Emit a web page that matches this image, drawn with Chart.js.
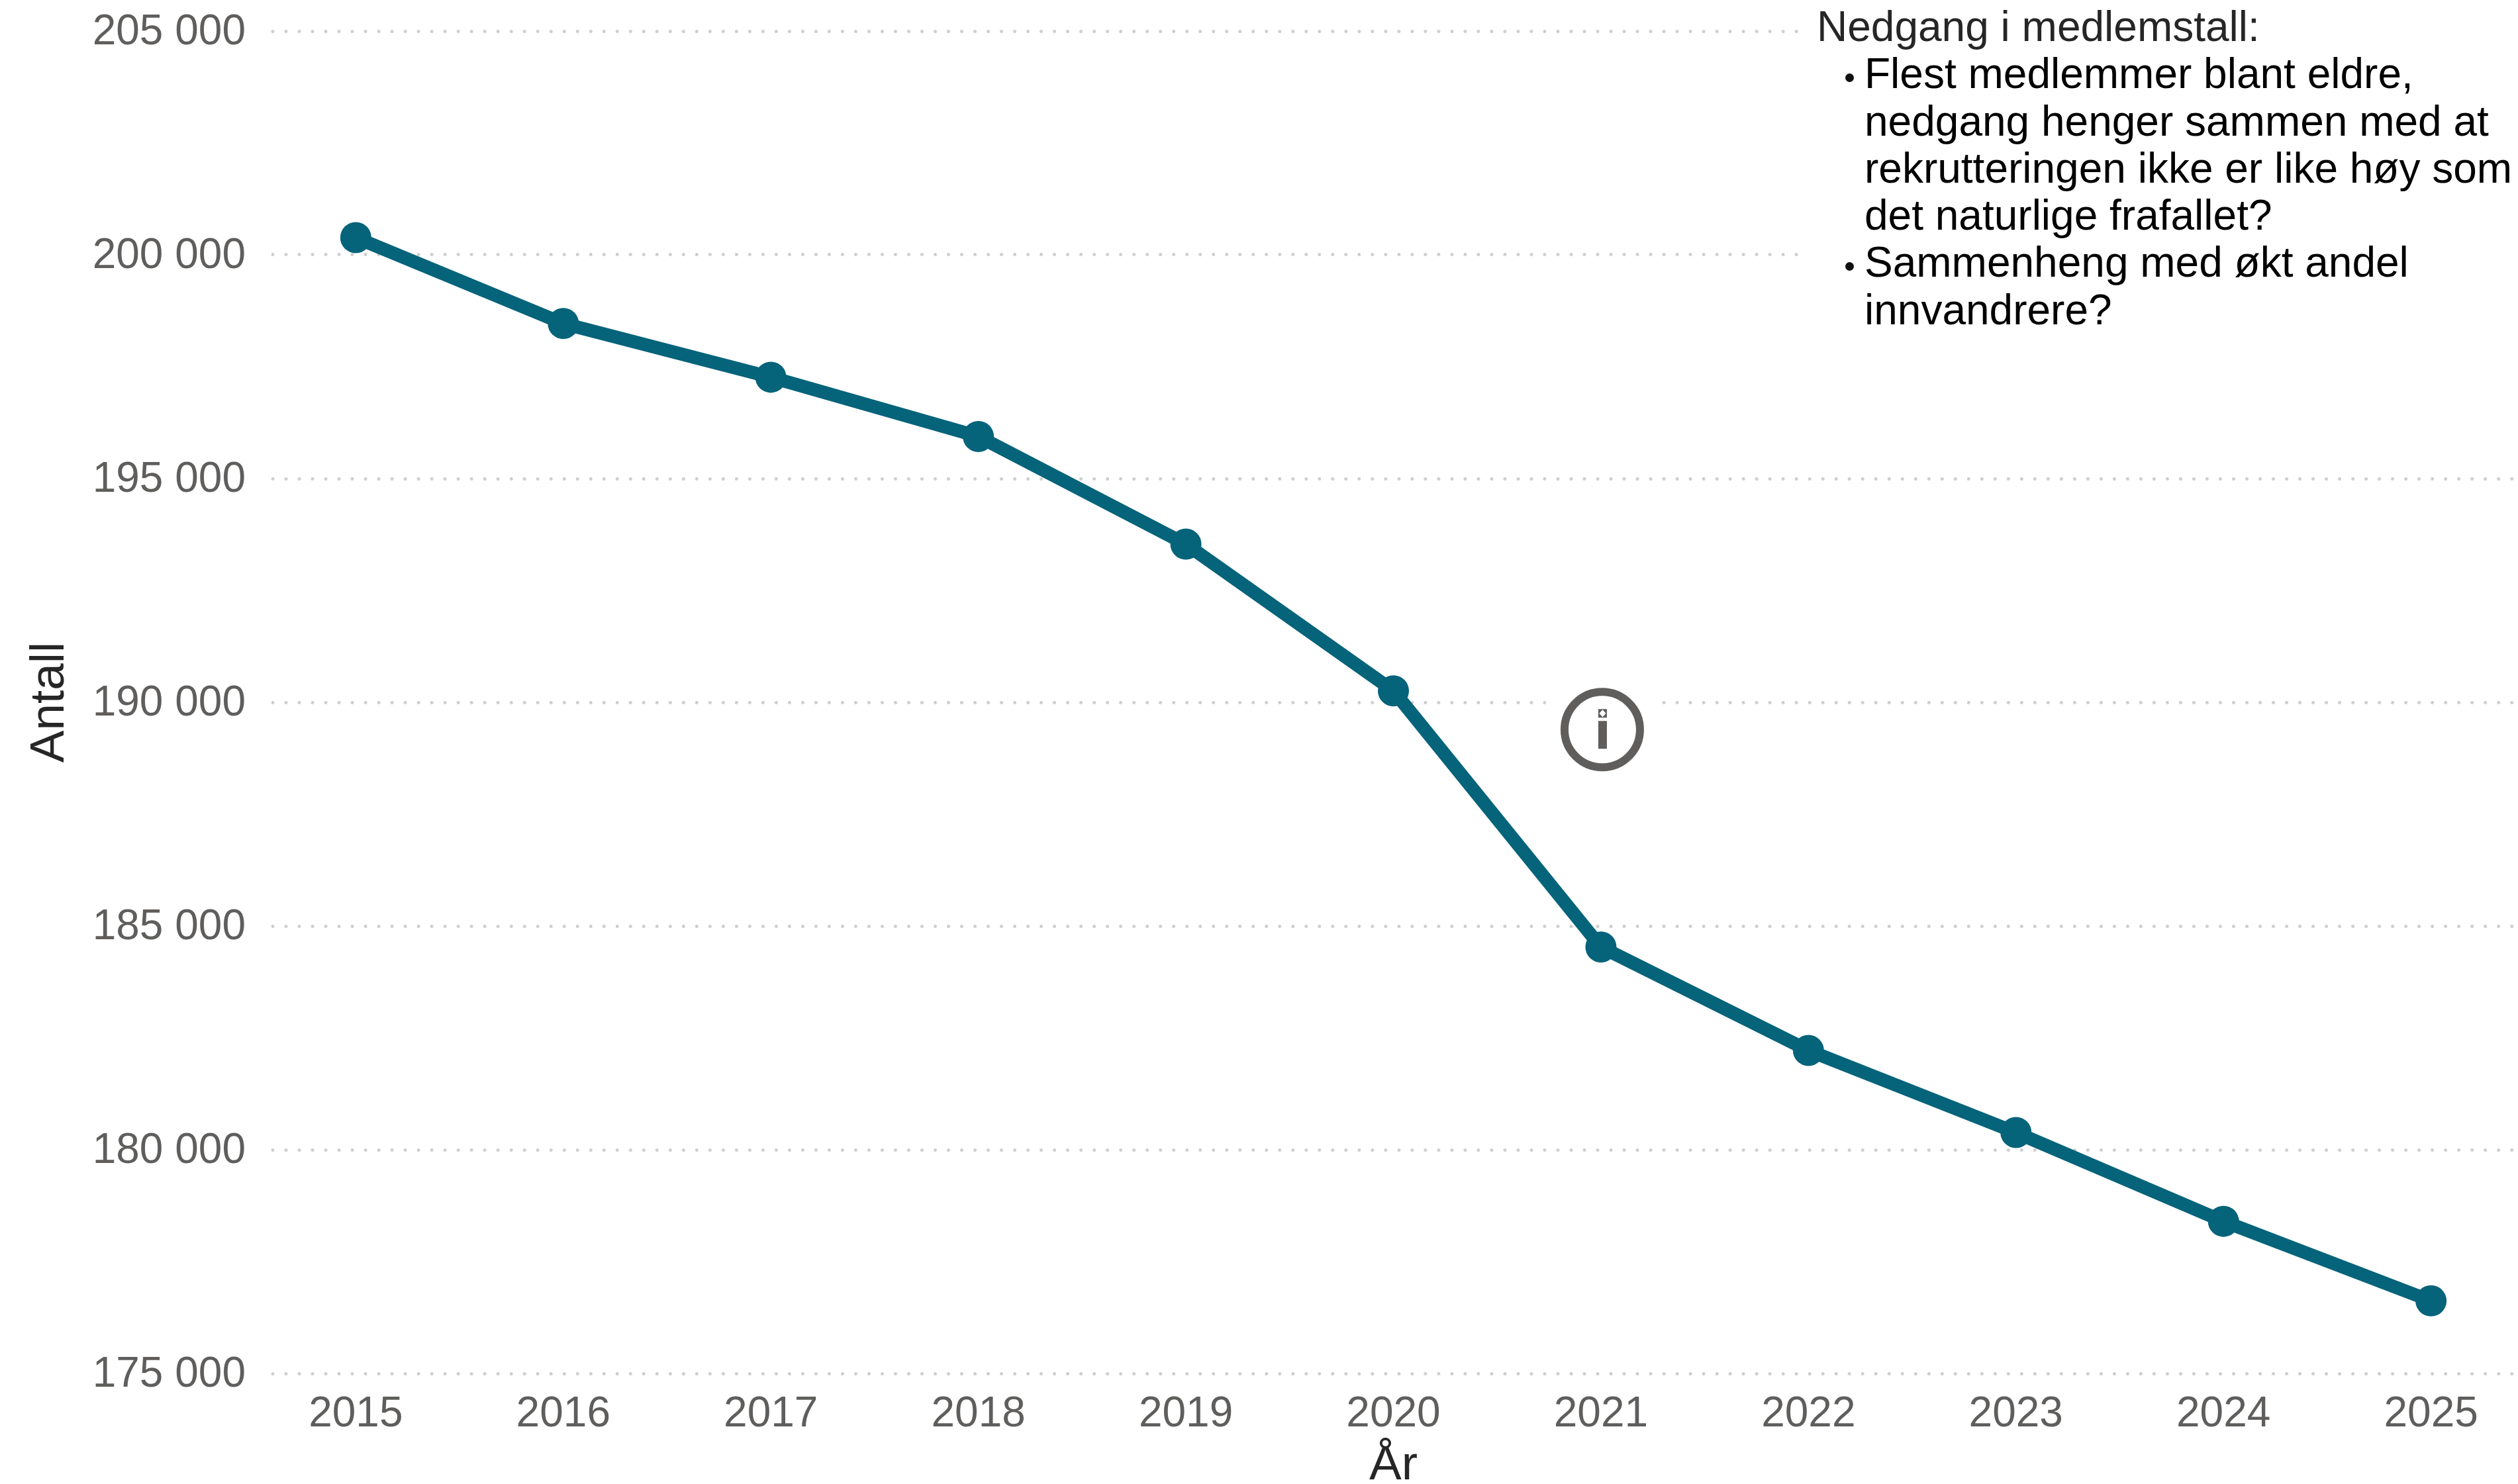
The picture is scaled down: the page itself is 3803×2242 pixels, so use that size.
<!DOCTYPE html>
<html lang="no">
<head>
<meta charset="utf-8">
<title>Medlemstall</title>
<script src="https://cdn.jsdelivr.net/npm/chart.js@4/dist/chart.umd.min.js"></script>
<style>
    html, body { margin: 0; padding: 0; background: #fff; overflow: hidden; }
    #wrap { position: relative; width: 3803px; height: 2242px; }
    #note {
        position: absolute; left: 2722px; top: 0; width: 1081px; height: 510px;
        box-sizing: border-box; padding: 5px 0 0 22px; background: #fff;
        font: 64px/71.3px "Liberation Sans", Arial, sans-serif; color: #262626;
        white-space: nowrap;
    }
    #note ul { margin: 0; padding: 0 0 0 72px; color: #000; list-style: none; }
    #note li { position: relative; }
    #note li::before {
        content: ''; position: absolute; left: -29px; top: 35px;
        width: 13px; height: 13px; border-radius: 50%; background: #111;
    }
</style>
</head>
<body>
<div id="wrap">
    <canvas id="chart" width="3803" height="2242"></canvas>
    <div id="note">
        Nedgang i medlemstall:
        <ul>
            <li>Flest medlemmer blant eldre,<br>nedgang henger sammen med at<br>rekrutteringen ikke er like høy som<br>det naturlige frafallet?</li>
            <li>Sammenheng med økt andel<br>innvandrere?</li>
        </ul>
    </div>
</div>
<script>
const years = [2015, 2016, 2017, 2018, 2019, 2020, 2021, 2022, 2023, 2024, 2025];
const members = [200385, 198466, 197265, 195940, 193535, 190256, 184531, 182219, 180385, 178400, 176623];
const yTicks = [175000, 180000, 185000, 190000, 195000, 200000, 205000];
const infoYear = 2021;
const infoValue = 189390;

const FONT = '"Liberation Sans", Arial, sans-serif';
const TEAL = '#05637a';
const GREY = '#5f5e5c';

// rounded caps turn the grid dash into dots
const roundGrid = {
    id: 'roundGrid',
    beforeDraw(chart) { chart.ctx.lineCap = 'round'; },
    afterDatasetsDraw(chart) { chart.ctx.lineCap = 'butt'; }
};

// info icon sitting beside the 2021 drop
const infoIcon = {
    id: 'infoIcon',
    afterDraw(chart) {
        const { ctx, scales } = chart;
        const cx = scales.x.getPixelForValue(infoYear) + 2;
        const cy = scales.y.getPixelForValue(infoValue);
        ctx.save();
        ctx.fillStyle = '#fff';
        ctx.fillRect(cx - 85, cy - 85, 170, 170);
        ctx.strokeStyle = GREY;
        ctx.lineWidth = 12;
        ctx.beginPath();
        ctx.arc(cx, cy, 57, 0, Math.PI * 2);
        ctx.stroke();
        ctx.fillStyle = GREY;
        ctx.fillRect(cx - 6, cy - 13, 13, 42);
        ctx.fillRect(cx - 6, cy - 31, 13, 13);
        ctx.fillStyle = '#fff';
        ctx.beginPath();
        ctx.moveTo(cx + 0.5, cy - 30);
        ctx.lineTo(cx + 5.5, cy - 24.5);
        ctx.lineTo(cx + 0.5, cy - 19);
        ctx.lineTo(cx - 4.5, cy - 24.5);
        ctx.closePath();
        ctx.fill();
        ctx.restore();
    }
};

new Chart(document.getElementById('chart'), {
    type: 'line',
    data: {
        datasets: [{
            data: years.map((year, i) => ({ x: year, y: members[i] })),
            borderColor: TEAL,
            backgroundColor: TEAL,
            borderWidth: 20,
            pointRadius: 23.5,
            pointBackgroundColor: TEAL,
            pointBorderWidth: 0,
            tension: 0
        }]
    },
    options: {
        responsive: false,
        animation: false,
        layout: { autoPadding: false, padding: { top: 47, right: 6, left: 0, bottom: 0 } },
        plugins: { legend: { display: false }, tooltip: { enabled: false } },
        scales: {
            x: {
                type: 'linear',
                min: 2014.6,
                max: 2025.4,
                afterFit: scale => {
                    scale.height = 167;
                    scale.paddingLeft = 0;
                    scale.paddingRight = 0;
                },
                afterBuildTicks: scale => { scale.ticks = years.map(value => ({ value })); },
                grid: { display: false },
                border: { display: false },
                ticks: {
                    autoSkip: false,
                    maxRotation: 0,
                    padding: 16,
                    color: GREY,
                    font: { family: FONT, size: 64 },
                    callback: value => String(value)
                },
                title: {
                    display: true,
                    text: 'År',
                    color: '#262626',
                    padding: { top: 0, bottom: -17 },
                    font: { family: FONT, size: 73 }
                }
            },
            y: {
                min: 175000,
                max: 205000,
                afterFit: scale => {
                    scale.width = 412;
                    scale.paddingTop = 0;
                    scale.paddingBottom = 0;
                },
                afterBuildTicks: scale => { scale.ticks = yTicks.map(value => ({ value })); },
                grid: {
                    color: '#cfcfcf',
                    lineWidth: 5,
                    drawTicks: false
                },
                border: { display: false, dash: [0.01, 20] },
                ticks: {
                    padding: 41,
                    labelOffset: 2,
                    color: GREY,
                    font: { family: FONT, size: 64 },
                    callback: value => String(value).replace(/(\d{3})$/, ' $1')
                },
                title: {
                    display: true,
                    text: 'Antall',
                    color: '#262626',
                    padding: { top: 32, bottom: 0 },
                    font: { family: FONT, size: 73 }
                }
            }
        }
    },
    plugins: [roundGrid, infoIcon]
});
</script>
</body>
</html>
